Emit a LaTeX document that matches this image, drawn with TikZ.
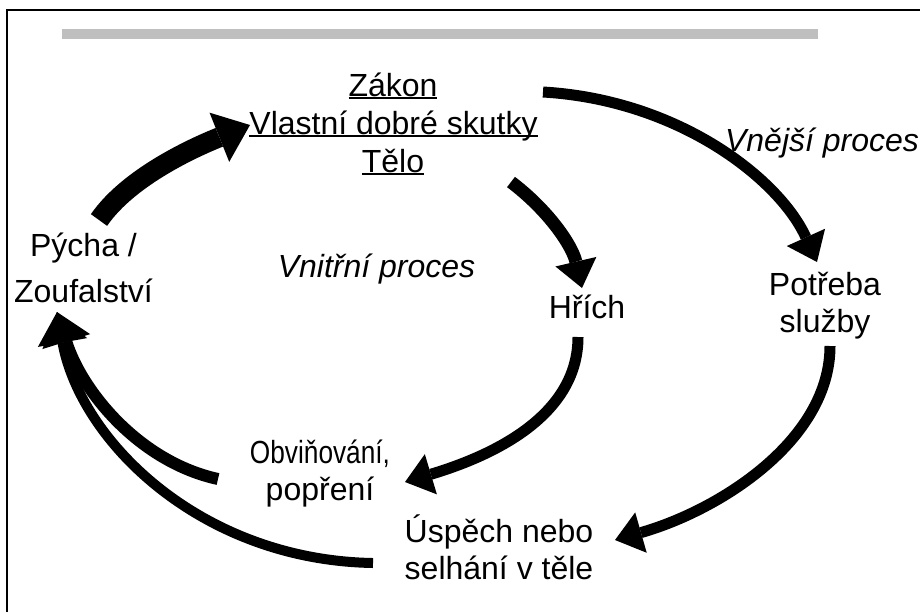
\documentclass[tikz,border=0pt]{standalone}
\usepackage{fontspec}
\usepackage{graphicx}
\setmainfont{Liberation Sans}
\usetikzlibrary{arrows.meta}
\newcommand\undl[1]{\setbox0\hbox{#1}\rlap{\rule[-1.5pt]{\wd0}{1pt}}\box0}

\begin{document}
\begin{tikzpicture}[x=.5pt,y=-.5pt]
   \tikzstyle{n} = [inner sep=0pt,anchor=base,align=center,
     font=\fontsize{16}{18.5}\selectfont]
   \tikzstyle{Arc} = [draw,line width=5.5pt,
     -{Triangle[length=13.5pt,width=21pt,line width=0pt]}]
   \tikzstyle{Fat} = [draw,line width=10pt,
     -{Triangle[length=16.5pt,width=26.5pt,line width=0pt]}]
   \tikzstyle{Back} = [draw,line width=5.5pt,
     -{Triangle[length=15.5pt,width=25pt,line width=0pt]}]
   \useasboundingbox (0,0) rectangle (920,612);
   \draw[line width=1pt] (7,612) -- (7,10) -- (920,10);
   \fill[black!25] (62,29) rectangle (818,39);
   %%
   \node[n] (law) at (393,96) {\undl{Zákon}};
   \node[n] (works) at (393.5,134) {\undl{Vlastní dobré skutky}};
   \node[n] (body) at (393,172) {\undl{Tělo}};
   \node[n] (pride) at (83.5,302) {Pýcha /\\[4.5pt]Zoufalství};
   \node[n] (sin) at (587,318) {Hřích};
   \node[n] (need) at (825,332) {Potřeba\\služby};
   \node[n] (blame) at (320,500) {\scalebox{.82}[1]{Obviňování,}\\popření};
   \node[n] (outcome) at (499,579) {Úspěch nebo\\selhání v těle};
   \node[n,font=\fontsize{16}{18.5}\selectfont\itshape] (innerlbl)
     at (376.5,277) {Vnitřní proces};
   \node[n,font=\fontsize{16}{18.5}\selectfont\itshape] (outerlbl)
     at (822,151) {Vnější proces};
   %%
   \path [Fat] ([shift={(15.5,-82)}]pride.base) .. controls +(31,-45)
     and +(-50,20) .. ([shift={(-143.5,-9)}]works.base);
   \path [Arc] ([shift={(150,-4)}]law.base) .. controls +(137,8)
     and +(-37,-82) .. ([shift={(-8,-70)}]need.base);
   \path [Arc,line width=6.5pt] ([shift={(118,10)}]body.base) .. controls
     +(37,28) and +(-10,-43) .. ([shift={(-5,-30)}]sin.base);
   \path [Arc] ([shift={(-9,19)}]sin.base) .. controls +(0,73)
     and +(100,-30) .. ([shift={(85,-18)}]blame.base);
   \path [Arc] ([shift={(5,14)}]need.base) .. controls +(0,94)
     and +(105,-30) .. ([shift={(116,-39)}]outcome.base);
   \path [Back,line width=6pt] ([shift={(-102,-21)}]blame.base) .. controls
     +(-78,-17) and +(25,80) .. ([shift={(-26.5,10)}]pride.base);
   \path [Back,line width=5pt] ([shift={(-126,-16)}]outcome.base) .. controls
     +(-173,-3) and +(23,128) .. ([shift={(-26.5,10)}]pride.base);
\end{tikzpicture}
\end{document}
